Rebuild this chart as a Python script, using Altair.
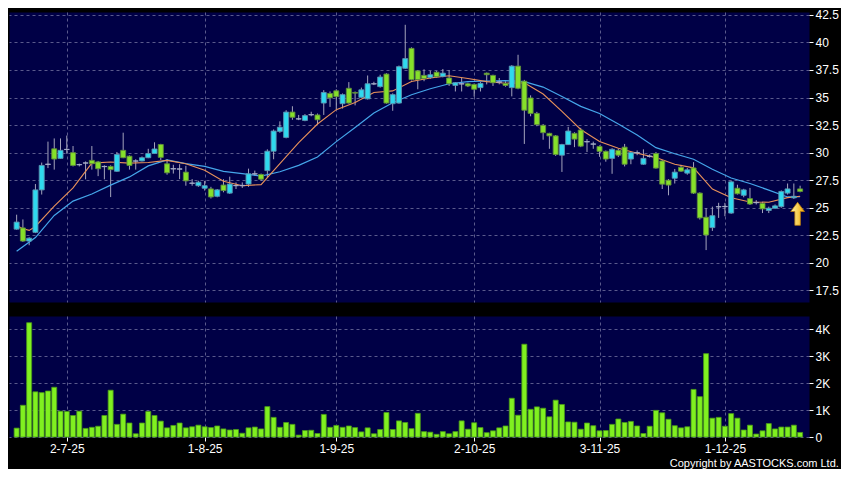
import altair as alt
import pandas as pd

# ---------------- data ----------------
START, END = "2025-06-19", "2025-12-17"
HOLIDAYS = ["2025-07-01", "2025-10-01", "2025-10-07", "2025-10-29"]

OPEN = [23.06, 23.17, 21.98, 22.77, 26.62, 28.93, 30.35, 29.48, 30.28, 30.0,
        28.92, 29.07, 29.3, 29.16, 28.75, 28.75, 28.31, 30.21, 29.68, 29.25,
        29.25, 29.54, 29.92, 30.74, 28.99, 28.55, 28.5, 28.23, 27.24, 27.0,
        26.77, 26.71, 26.04, 27.06, 26.33, 27.0, 27.03, 27.15, 28.08, 28.02,
        28.37, 30.13, 31.93, 31.38, 33.68, 33.07, 32.92, 33.45, 33.42, 34.5,
        35.37, 35.61, 34.44, 35.84, 35.46, 35.02, 34.88, 36.25, 35.99, 37.13,
        34.44, 34.5, 37.65, 39.46, 37.42, 37.01, 36.83, 37.3, 36.92, 36.77,
        36.1, 36.25, 36.25, 36.19, 35.9, 37.21, 37.01, 36.42, 36.28, 35.9,
        37.85, 36.48, 34.96, 33.56, 32.48, 31.75, 31.52, 29.77, 30.73, 31.75,
        32.05, 31.0, 30.79, 30.56, 30.12, 29.48, 30.21, 30.5, 29.42, 30.0,
        28.95, 29.68, 29.92, 29.24, 27.5, 27.68, 28.67, 28.14, 28.61, 26.33,
        24.14, 23.2, 25.1, 25.1, 24.52, 26.77, 26.13, 25.83, 25.48, 25.4,
        24.75, 24.96, 25.1, 26.33, 25.9, 26.71]
HIGH = [24.37, 23.94, 22.33, 27.15, 29.1, 31.0, 31.29, 31.29, 31.55, 30.6,
        29.0, 29.2, 30.6, 29.25, 28.85, 28.85, 30.06, 31.81, 29.75, 29.4,
        29.65, 30.35, 30.94, 30.8, 29.4, 28.9, 28.95, 28.8, 27.6, 27.45,
        27.44, 26.9, 26.7, 27.59, 27.82, 27.3, 27.3, 28.55, 28.37, 28.1,
        30.3, 32.1, 32.84, 33.85, 34.21, 33.42, 33.5, 33.71, 33.55, 35.67,
        35.55, 35.75, 35.37, 36.4, 35.55, 35.9, 37.0, 36.43, 37.07, 37.21,
        35.38, 37.9, 41.6, 39.55, 37.5, 37.56, 37.42, 37.42, 37.59, 37.5,
        36.4, 36.83, 36.35, 36.28, 36.4, 37.27, 37.07, 36.77, 36.48, 37.94,
        38.88, 36.6, 35.2, 33.7, 32.6, 31.8, 31.6, 30.8, 32.34, 31.85,
        32.25, 31.23, 31.0, 30.65, 30.2, 30.4, 30.35, 30.79, 30.06, 30.2,
        30.3, 29.85, 30.06, 29.33, 27.6, 28.52, 28.9, 28.6, 29.14, 26.4,
        24.96, 25.1, 25.45, 25.45, 27.45, 27.09, 26.72, 26.8, 25.69, 25.55,
        25.1, 25.3, 26.57, 27.2, 27.2, 27.0]
LOW = [23.0, 21.9, 21.6, 22.7, 26.2, 28.6, 28.46, 29.45, 29.9, 28.75,
       28.75, 27.58, 28.46, 27.87, 27.58, 25.97, 28.25, 29.5, 28.46, 28.46,
       29.2, 29.5, 29.9, 29.33, 28.0, 28.1, 27.6, 27.0, 27.0, 26.9,
       26.56, 25.84, 25.95, 26.4, 26.25, 26.7, 26.8, 26.9, 27.9, 27.44,
       27.73, 29.4, 31.8, 31.3, 32.98, 32.95, 32.85, 33.3, 32.54, 33.42,
       34.15, 33.92, 34.0, 34.44, 34.29, 34.97, 34.82, 36.13, 35.9, 34.44,
       33.8, 34.44, 37.6, 36.55, 35.75, 36.48, 36.7, 36.8, 36.83, 36.05,
       35.55, 35.55, 35.95, 35.08, 35.55, 36.19, 36.05, 36.2, 35.98, 35.11,
       35.75, 30.79, 33.3, 32.4, 31.17, 30.35, 29.7, 28.25, 30.7, 30.5,
       30.5, 30.06, 30.35, 29.62, 29.18, 28.08, 29.6, 28.75, 28.95, 29.77,
       28.9, 29.55, 28.55, 26.7, 26.13, 27.2, 28.25, 28.0, 26.25, 23.93,
       21.16, 22.9, 24.08, 24.23, 24.45, 26.2, 25.95, 25.25, 25.3, 24.52,
       24.52, 24.9, 25.0, 26.2, 25.8, 26.4]
CLOSE = [23.70, 21.98, 22.24, 26.62, 28.84, 28.96, 29.42, 30.21, 30.30, 28.84,
         28.90, 29.05, 29.0, 28.54, 28.73, 28.46, 29.83, 29.54, 28.84, 29.23,
         29.54, 29.92, 30.33, 29.57, 28.17, 28.52, 28.53, 27.44, 27.22, 27.32,
         27.0, 25.98, 26.62, 26.56, 27.15, 27.02, 27.0, 28.08, 28.06, 27.59,
         30.13, 31.96, 32.31, 33.68, 33.21, 33.05, 33.36, 33.43, 32.98, 35.46,
         34.97, 35.08, 35.26, 34.5, 35.40, 35.70, 36.25, 36.23, 36.86, 34.5,
         35.26, 37.8, 38.53, 36.63, 36.63, 36.72, 37.07, 36.89, 37.21, 36.25,
         36.34, 36.23, 36.05, 35.75, 36.28, 37.07, 36.34, 36.40, 36.1, 37.85,
         35.84, 33.85, 33.56, 32.54, 31.81, 31.52, 29.83, 30.73, 31.96, 31.23,
         30.59, 30.98, 30.77, 30.12, 29.42, 30.3, 29.77, 28.95, 30.0, 29.98,
         29.48, 29.66, 28.6, 27.14, 27.06, 28.23, 28.32, 28.44, 26.33, 24.08,
         22.53, 24.28, 25.08, 25.12, 27.35, 26.27, 26.62, 25.34, 25.46, 24.9,
         24.96, 25.17, 26.48, 26.71, 26.04, 26.48]
VOLUME_K = [0.33, 1.18, 4.25, 1.68, 1.65, 1.71, 1.85, 0.96, 0.95, 0.8,
            0.96, 0.32, 0.36, 0.4, 0.8, 1.74, 0.47, 0.85, 0.52, 0.12,
            0.52, 0.95, 0.8, 0.59, 0.34, 0.43, 0.52, 0.34, 0.38, 0.44,
            0.38, 0.35, 0.41, 0.3, 0.26, 0.28, 0.14, 0.34, 0.37, 0.3,
            1.13, 0.73, 0.36, 0.54, 0.47, 0.07, 0.24, 0.25, 0.13, 0.84,
            0.36, 0.43, 0.36, 0.41, 0.35, 0.19, 0.34, 0.12, 0.28, 0.91,
            0.28, 0.6, 0.54, 0.31, 0.88, 0.2, 0.18, 0.1, 0.2, 0.12,
            0.2, 0.6, 0.29, 0.53, 0.35, 0.16, 0.23, 0.34, 0.41, 1.44,
            0.81, 3.45, 1.03, 1.12, 1.07, 0.75, 1.37, 1.21, 0.56, 0.55,
            0.29, 0.52, 0.42, 0.23, 0.24, 0.47, 0.67, 0.54, 0.58, 0.41,
            0.13, 0.4, 0.99, 0.9, 0.66, 0.42, 0.34, 0.38, 1.77, 1.5,
            3.1, 0.7, 0.73, 0.4, 0.87, 0.7, 0.26, 0.44, 0.11, 0.23,
            0.5, 0.3, 0.37, 0.37, 0.44, 0.17]

MA_SHORT_IDX = [0, 1, 2, 3, 6, 9, 12, 15, 18, 21, 24, 27, 30, 33, 36, 39, 42, 45,
                48, 51, 54, 57, 60, 63, 66, 69, 72, 75, 78, 81, 84, 87, 90, 93,
                96, 99, 102, 105, 108, 111, 114, 117, 120, 123, 125]
MA_SHORT = [23.4, 23.1, 22.95, 23.3, 25.15, 26.8, 29.05, 29.15, 29.05, 29.1, 29.3,
            29.0, 28.4, 27.4, 27.0, 27.1, 29.0, 30.9, 32.6, 33.9, 34.55, 35.45,
            35.6, 36.45, 36.78, 36.98, 36.72, 36.44, 36.3, 36.33, 35.32, 33.75,
            32.1, 31.02, 30.4, 29.95, 29.55, 28.95, 28.62, 26.7, 25.9, 25.52,
            25.5, 25.92, 26.05]
MA_LONG_IDX = [0, 3, 6, 9, 12, 15, 18, 21, 24, 27, 30, 33, 36, 39, 42, 45, 48, 51,
               54, 57, 60, 63, 66, 69, 72, 75, 78, 81, 84, 87, 90, 93, 96, 99,
               102, 105, 108, 111, 114, 117, 120, 123, 125]
MA_LONG = [21.05, 22.3, 24.3, 25.6, 26.25, 27.05, 27.8, 28.8, 29.35, 29.0, 28.75,
           28.3, 28.1, 27.87, 28.27, 28.85, 29.6, 31.0, 32.28, 33.6, 34.53, 35.25,
           35.8, 36.25, 36.45, 36.5, 36.54, 36.45, 35.95, 35.1, 34.2, 33.55, 32.6,
           31.6, 30.45, 29.9, 29.4, 28.5, 27.7, 27.2, 26.6, 25.98, 26.0]

PRICE_TICKS = [17.5, 20, 22.5, 25, 27.5, 30, 32.5, 35, 37.5, 40, 42.5]
VOL_TICKS = [0, 1, 2, 3, 4]
ARROW = {"idx": 124.6, "price": 24.45}
COPYRIGHT = "Copyright by AASTOCKS.com Ltd."

# ---------------- tables ----------------
dates = [d for d in pd.bdate_range(START, END) if d.strftime("%Y-%m-%d") not in HOLIDAYS]
n = len(OPEN)
dates = dates[:n]
df = pd.DataFrame({"idx": list(range(n)), "open": OPEN, "high": HIGH, "low": LOW,
                   "close": CLOSE, "vol": VOLUME_K})
df["lo"] = df[["open", "close"]].min(axis=1)
df["hi"] = df[["open", "close"]].max(axis=1)
df["dir"] = ["flat" if abs(c - o) < 0.05 else ("up" if c > o else "down")
             for o, c in zip(OPEN, CLOSE)]

month_idx, month_lab = [], []
for i, d in enumerate(dates):
    if i > 0 and d.month != dates[i - 1].month:
        month_idx.append(i)
        month_lab.append(f"{d.day}-{d.month}-{d.year % 100}")
label_expr = " : ".join(f"datum.value == {i} ? '{l}'" for i, l in zip(month_idx, month_lab)) + " : ''"

ma_s = pd.DataFrame({"idx": MA_SHORT_IDX, "v": MA_SHORT})
ma_l = pd.DataFrame({"idx": MA_LONG_IDX, "v": MA_LONG})
arrow_df = pd.DataFrame([ARROW])

# ---------------- style ----------------
NAVY = "#000046"
GRID = "#5a5a8c"
CYAN, GREEN, GRAY = "#2fd9ee", "#86e02a", "#a6aec8"
FONT = "Liberation Sans"
W, HP, HV = 800, 290, 121

xscale = alt.Scale(domain=[-0.42, n - 1 + 0.62], nice=False, zero=False)
pscale = alt.Scale(domain=[16.45, 42.76], nice=False, zero=False)

x_axis_price = alt.Axis(values=month_idx, labels=False, ticks=False, domain=False,
                        grid=True, gridColor=GRID, gridDash=[3, 3])
y_axis_price = alt.Axis(orient="right", values=PRICE_TICKS,
                        labelExpr="format(datum.value, '.3~g')",
                        grid=True, labelOverlap=False, gridColor=GRID, gridDash=[3, 3],
                        domain=False, tickColor="white", tickSize=4,
                        labelColor="white", labelFont=FONT, labelFontSize=12,
                        labelPadding=2)


def X():
    return alt.X("idx:Q", scale=xscale, title=None, axis=x_axis_price)


def Y(field):
    return alt.Y(field, scale=pscale, title=None, axis=y_axis_price)


wicks = alt.Chart(df).mark_rule(color="#a4a4bc", strokeWidth=1).encode(
    x=X(), y=Y("low:Q"), y2="high:Q")

bodies = alt.Chart(df).mark_bar(size=5, strokeWidth=0.9).encode(
    x=X(), y=Y("lo:Q"), y2="hi:Q",
    fill=alt.Fill("dir:N", legend=None,
                  scale=alt.Scale(domain=["up", "down", "flat"], range=[CYAN, GREEN, GRAY])),
    stroke=alt.Stroke("dir:N", legend=None,
                      scale=alt.Scale(domain=["up", "down", "flat"],
                                      range=["#5b93b0", "#5f8c3c", GRAY])))

line_s = alt.Chart(ma_s).mark_line(color="#e8915a", strokeWidth=1.1).encode(
    x=X(), y=Y("v:Q"))
line_l = alt.Chart(ma_l).mark_line(color="#45a6ea", strokeWidth=1.2).encode(
    x=X(), y=Y("v:Q"))

arrow = alt.Chart(arrow_df).mark_point(
    shape="M0,-1 L0.6,-0.2 L0.24,-0.2 L0.24,1 L-0.24,1 L-0.24,-0.2 L-0.6,-0.2 Z",
    size=529, filled=True, opacity=1, strokeWidth=0.8, stroke="#b87a10",
    fill=alt.Gradient(gradient="linear", x1=0, y1=0, x2=1, y2=0,
                      stops=[alt.GradientStop(offset=0, color="#fff4a8"),
                             alt.GradientStop(offset=1, color="#f2a900")])).encode(
    x=X(), y=Y("price:Q"))

price = alt.layer(wicks, line_l, line_s, bodies, arrow).properties(width=W, height=HP)

volume = alt.Chart(df).mark_bar(size=5, color="#80f020", stroke="#4a9a18",
                                strokeWidth=0.8).encode(
    x=alt.X("idx:Q", scale=xscale, title=None,
            axis=alt.Axis(values=month_idx, labelExpr=label_expr, grid=True, gridColor=GRID,
                          gridDash=[3, 3], domain=False, tickColor="white", tickSize=4,
                          labelColor="white", labelFont=FONT, labelFontSize=12,
                          labelPadding=2)),
    y=alt.Y("vol:Q", title=None, scale=alt.Scale(domain=[0, 4.5], nice=False),
            axis=alt.Axis(orient="right", values=VOL_TICKS, grid=True, gridColor=GRID,
                          labelOverlap=False, gridDash=[3, 3], domain=False,
                          tickColor="white", tickSize=4,
                          labelColor="white", labelFont=FONT, labelFontSize=12,
                          labelPadding=2,
                          labelExpr="datum.value == 0 ? '0' : datum.value + 'K'")),
).properties(width=W, height=HV)

chart = alt.vconcat(price, volume, spacing=12).properties(
    background="black",
    padding={"left": 0, "top": 0, "right": 2, "bottom": 0},
    title=alt.TitleParams(COPYRIGHT, orient="bottom", anchor="end", frame="bounds",
                          color="white", font=FONT, fontSize=11, fontWeight="normal",
                          offset=3),
).configure_view(fill=NAVY, stroke="transparent").configure_axis(labelOverlap=False)

chart.save("out.html", embed_options={"renderer": "svg", "actions": False})
